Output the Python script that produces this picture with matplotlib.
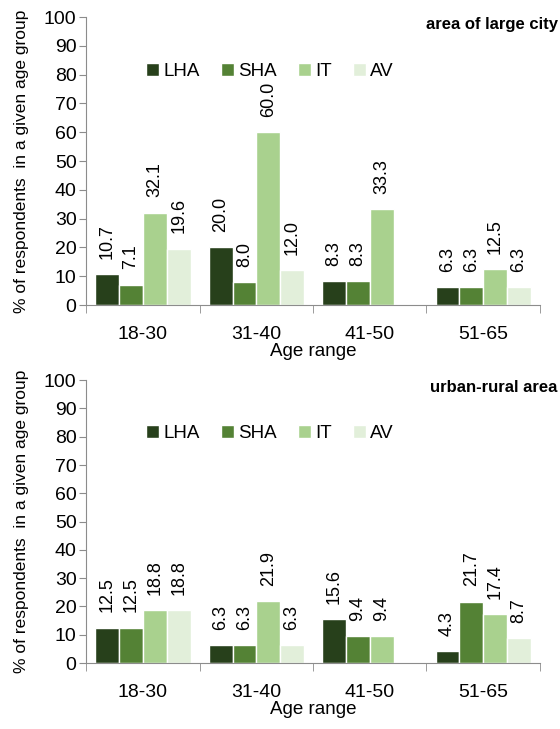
import matplotlib
matplotlib.use("Agg")
import matplotlib.pyplot as plt
import numpy as np

plt.rcParams['font.family'] = ['Liberation Sans Narrow', 'Liberation Sans', 'DejaVu Sans']

age_groups = ['18-30', '31-40', '41-50', '51-65']
series = ['LHA', 'SHA', 'IT', 'AV']
colors = ['#27401b', '#548235', '#a9d18e', '#e2efda']

city_vals = [
    [10.7, 20.0, 8.3, 6.3],      # LHA
    [7.1, 8.0, 8.3, 6.3],        # SHA
    [32.1, 60.0, 33.3, 12.5],    # IT
    [19.6, 12.0, np.nan, 6.3],   # AV
]
rural_vals = [
    [12.5, 6.3, 15.6, 4.3],
    [12.5, 6.3, 9.4, 21.7],
    [18.8, 21.9, 9.4, 17.4],
    [18.8, 6.3, np.nan, 8.7],
]

fig = plt.figure(figsize=(5.6, 7.29), dpi=100)
ax1 = fig.add_axes([0.154, 0.5816, 0.81, 0.395])
ax2 = fig.add_axes([0.154, 0.0905, 0.81, 0.388])

x = np.arange(len(age_groups))
w = 0.21
grey = '#8c8c8c'


def draw(ax, vals, title, title_y):
    for i, (name, col) in enumerate(zip(series, colors)):
        pos = x + (i - 1.5) * w
        v = np.array(vals[i], dtype=float)
        ax.bar(pos, v, width=w, color=col, edgecolor='white', linewidth=1, label=name)
        for px, pv in zip(pos, v):
            if np.isnan(pv):
                continue
            ax.annotate(f'{pv:.1f}', (px, pv), xytext=(0, 11), textcoords='offset points',
                        rotation=90, ha='center', va='bottom', fontsize=13)
    ax.set_xlim(-0.5, 3.5)
    ax.set_ylim(0, 100)
    ax.set_yticks(range(0, 101, 10))
    ax.set_xticks(x)
    ax.set_xticklabels(age_groups)
    ax.set_xticks(np.arange(-0.5, 4, 1), minor=True)
    ax.tick_params(axis='x', which='major', length=0, labelsize=14, pad=15)
    ax.tick_params(axis='x', which='minor', length=6, color=grey, direction='out')
    ax.tick_params(axis='y', length=5, color=grey, labelsize=14, pad=2)
    for s in ['top', 'right']:
        ax.spines[s].set_visible(False)
    for s in ['left', 'bottom']:
        ax.spines[s].set_color(grey)
    ax.set_xlabel('Age range', fontsize=13.5, labelpad=0)
    ax.set_ylabel('% of respondents  in a given age group', fontsize=12.5, labelpad=11)
    ax.legend(loc='center', bbox_to_anchor=(0.405, 0.81), ncol=4, frameon=False,
              fontsize=13.5, handlelength=0.7, handleheight=0.7, handletextpad=0.2,
              columnspacing=1.15)
    fig.text(0.996, title_y, title, ha='right', va='center', fontsize=12,
             fontweight='bold')


draw(ax1, city_vals, 'area of large city', 0.967)
draw(ax2, rural_vals, 'urban-rural area', 0.468)

fig.savefig('out.png', dpi=100)
